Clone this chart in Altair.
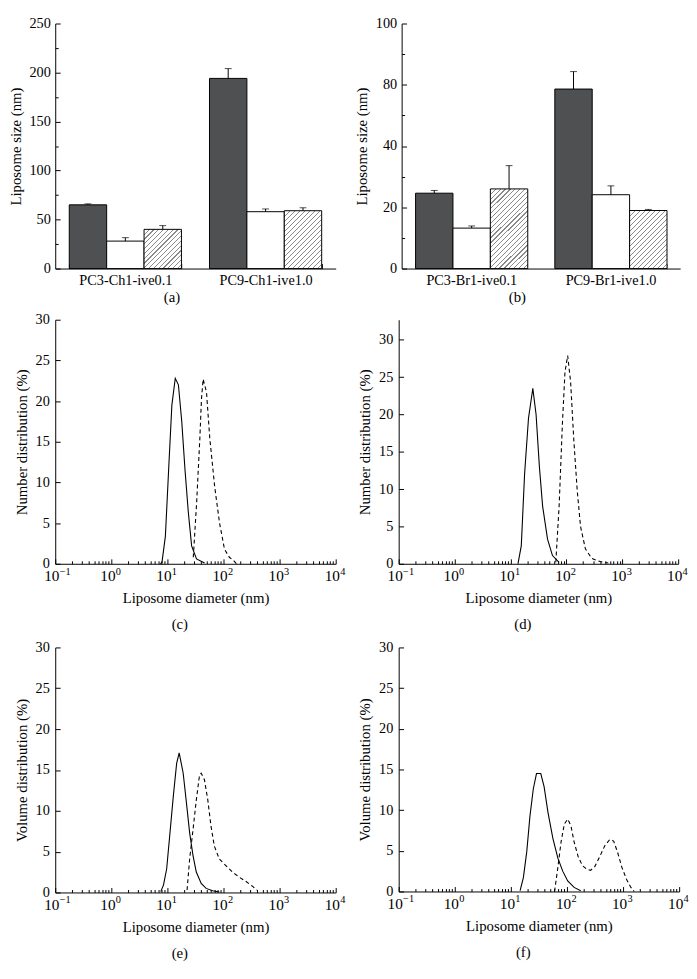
import altair as alt
import pandas as pd

FONT = "Liberation Serif"
DARK = "#4f5052"
HATCH = "#8a8a8a"

# ---------------- bar panels (a), (b) ----------------
groups_a = ["PC3-Ch1-ive0.1", "PC9-Ch1-ive1.0"]
groups_b = ["PC3-Br1-ive0.1", "PC9-Br1-ive1.0"]
series = ["dark", "white", "hatched"]

a_dark = [65.0, 194.0]
a_dark_err = [1.0, 10.0]
a_white = [28.0, 58.0]
a_white_err = [3.5, 2.8]
a_hatch = [40.0, 59.0]
a_hatch_err = [3.8, 3.0]

b_dark = [24.6, 58.6]
b_dark_err = [0.9, 5.7]
b_white = [13.2, 24.1]
b_white_err = [0.7, 2.9]
b_hatch = [26.0, 18.95]
b_hatch_err = [7.6, 0.35]

a_ticks = [0, 25, 50, 75, 100, 125, 150, 175, 200, 225, 250]
b_ticks = [0, 10, 20, 30, 40, 50, 60, 70, 80]

# ---------------- size distributions (c)-(f) ----------------
c_solid_d = [7.5, 8.0, 9.2, 10.5, 12.0, 13.8, 15.7, 18.0, 20.6, 23.6, 27.0, 33.0, 46.0]
c_solid_v = [0.0, 0.2, 3.4, 11.5, 19.5, 22.8, 22.0, 17.5, 11.5, 6.3, 2.2, 0.6, 0.1]
c_dash_d = [28.9, 33.1, 37.9, 40.5, 43.3, 49.7, 56.8, 69.5, 85.0, 104.0, 127.0, 156.0, 170.0]
c_dash_v = [0.8, 7.4, 15.5, 20.3, 22.7, 21.1, 15.5, 9.5, 5.0, 1.8, 0.8, 0.3, 0.0]

d_solid_d = [13.6, 15.6, 17.9, 21.0, 25.1, 28.7, 32.9, 37.6, 46.0, 56.4, 74.0]
d_solid_v = [0.0, 2.4, 12.1, 19.5, 23.5, 20.0, 13.0, 7.7, 3.3, 1.1, 0.2]
d_dash_d = [64.7, 74.1, 84.8, 94.4, 105.4, 119.0, 136.0, 156.0, 179.0, 219.0, 286.0, 403.0, 563.0]
d_dash_v = [0.2, 7.7, 18.7, 25.7, 27.9, 24.4, 16.5, 9.9, 5.0, 2.0, 0.7, 0.3, 0.1]

e_solid_d = [7.6, 8.5, 9.7, 11.1, 12.7, 14.6, 16.2, 19.1, 21.8, 24.9, 28.6, 32.7, 40.0, 48.9, 64.0, 84.0]
e_solid_v = [0.1, 0.9, 2.9, 7.3, 11.7, 15.8, 17.1, 14.6, 11.0, 7.3, 4.5, 2.5, 1.1, 0.5, 0.2, 0.05]
e_dash_d = [22.4, 24.9, 28.6, 32.7, 37.4, 40.0, 45.7, 52.5, 59.9, 68.5, 84.0, 110.0, 144.0, 188.0, 246.0, 323.0, 395.0]
e_dash_v = [0.3, 4.1, 7.7, 11.3, 14.4, 14.6, 13.8, 11.3, 8.1, 5.7, 4.1, 3.3, 2.5, 1.9, 1.4, 0.8, 0.3]

f_solid_d = [14.6, 16.7, 19.2, 21.9, 25.1, 28.6, 34.1, 39.1, 45.9, 56.2, 68.8, 84.0, 103.0, 134.0, 176.0]
f_solid_v = [0.1, 1.7, 4.9, 9.3, 12.6, 14.5, 14.5, 12.9, 9.7, 6.5, 4.1, 2.5, 1.3, 0.5, 0.1]
f_dash_d = [60.0, 68.7, 78.5, 89.8, 102.8, 117.5, 134.0, 158.0, 188.0, 225.0, 262.0, 310.0, 385.0,
            470.0, 580.0, 680.0, 800.0, 950.0, 1150.0, 1380.0, 1580.0]
f_dash_v = [0.0, 2.9, 6.1, 8.3, 8.9, 8.1, 6.1, 4.3, 3.2, 2.75, 2.6, 3.0, 4.3, 5.6, 6.4, 6.2, 4.8, 3.0, 1.5, 0.5, 0.0]

log_ticks = []
for k in range(-1, 4):
    for m in range(1, 10):
        log_ticks.append(m * 10.0 ** k)
log_ticks.append(10000.0)
log_major = [0.1, 1.0, 10.0, 100.0, 1000.0, 10000.0]
log_exponents = ["\u22121", "0", "1", "2", "3", "4"]
curve_yticks = [0, 2.5, 5, 7.5, 10, 12.5, 15, 17.5, 20, 22.5, 25, 27.5, 30]

LABEL_SIZE = 14.5
TITLE_SIZE = 15


def hatch_gradient(w, h, d=5.0, f=0.25):
    c = (w + h) / (w * w + h * h)
    n = max(1, int(round((w + h) / d)))
    stops = []
    for i in range(n):
        o0 = i / n
        o1 = (i + f) / n
        o2 = (i + 1) / n
        stops += [
            {"offset": o0, "color": HATCH},
            {"offset": o1, "color": HATCH},
            {"offset": o1, "color": "white"},
            {"offset": o2, "color": "white"},
        ]
    return {"gradient": "linear", "x1": 0, "y1": 0, "x2": w * c, "y2": h * c, "stops": stops}


def bar_panel(groups, vals, errs, ymax, yticks, major, label_expr, letter, W, H, toff):
    rows = []
    for s, v, e in zip(series, vals, errs):
        for g, vv, ee in zip(groups, v, e):
            rows.append({"group": g, "series": s, "value": vv, "upper": vv + ee})
    df = pd.DataFrame(rows)
    x = alt.X("group:N", scale=alt.Scale(domain=groups, paddingInner=0.2, paddingOuter=0.1),
              axis=alt.Axis(title=None, labelAngle=0, tickBand="extent", tickSize=alt.ExprRef("-5"),
                            labelPadding=10))
    xo = alt.XOffset("series:N", scale=alt.Scale(domain=series, paddingInner=0, paddingOuter=0))
    ysc = alt.Scale(domain=[0, ymax], nice=False)
    yax = alt.Axis(title="Liposome size (nm)", values=yticks, labelExpr=label_expr,
                   tickSize={"condition": {"test": f"datum.value % {major} === 0", "value": -5}, "value": -3},
                   labelPadding=10, titlePadding=6, labelOverlap=False)
    base = alt.Chart(df)
    layers = [
        base.transform_filter(alt.datum.series == "dark").mark_bar(fill=DARK, stroke="black", strokeWidth=1)
        .encode(x=x, xOffset=xo, y=alt.Y("value:Q", scale=ysc, axis=yax)),
        base.transform_filter(alt.datum.series == "white").mark_bar(fill="white", stroke="black", strokeWidth=1)
        .encode(x=x, xOffset=xo, y=alt.Y("value:Q", scale=ysc, axis=yax)),
    ]
    bw = 0.4 * W / 3.0
    for g, v in zip(groups, vals[2]):
        h = v / ymax * H
        layers.append(
            base.transform_filter((alt.datum.series == "hatched") & (alt.datum.group == g))
            .mark_bar(fill=hatch_gradient(bw, h), stroke="black", strokeWidth=1)
            .encode(x=x, xOffset=xo, y=alt.Y("value:Q", scale=ysc, axis=yax))
        )
    layers.append(
        base.mark_rule(color="black", strokeWidth=1)
        .encode(x=x, xOffset=xo, y=alt.Y("value:Q", scale=ysc, axis=yax), y2="upper:Q")
    )
    layers.append(
        base.mark_tick(orient="horizontal", size=7, thickness=1, color="black")
        .encode(x=x, xOffset=xo, y=alt.Y("upper:Q", scale=ysc, axis=yax))
    )
    return alt.layer(*layers).properties(
        width=W, height=H,
        title=alt.TitleParams(letter, orient="bottom", anchor="middle", frame="bounds", offset=toff),
    )


MAJOR_LOG = "abs(log(datum.value)/LN10 - round(log(datum.value)/LN10)) < 1e-6"


def curve_panel(sd, sv, dd, dv, ytitle, ymax, letter, W, H, toff):
    xsc = alt.Scale(type="log", domain=[0.1, 10000], nice=False)
    xax = alt.Axis(title="Liposome diameter (nm)", values=log_ticks,
                   labelExpr=f"{MAJOR_LOG} ? '10' : ''",
                   tickSize={"condition": {"test": MAJOR_LOG, "value": -5}, "value": -3},
                   labelPadding=10, titlePadding=5, labelOverlap=False, labelFlush=False,
                   labelOffset=-4, labelFontSize=LABEL_SIZE + 1)
    ysc = alt.Scale(domain=[0, ymax], nice=False)
    yax = alt.Axis(title=ytitle, values=curve_yticks,
                   labelExpr="datum.value % 5 === 0 ? format(datum.value, 'd') : ''",
                   tickSize={"condition": {"test": "datum.value % 5 === 0", "value": -5}, "value": -3},
                   labelPadding=11, titlePadding=6, labelOverlap=False)
    s = alt.Chart(pd.DataFrame({"d": sd, "v": sv})).mark_line(color="black", strokeWidth=1.1).encode(
        x=alt.X("d:Q", scale=xsc, axis=xax), y=alt.Y("v:Q", scale=ysc, axis=yax))
    dsh = alt.Chart(pd.DataFrame({"d": dd, "v": dv})).mark_line(color="black", strokeWidth=1.1,
                                                                 strokeDash=[4, 3]).encode(
        x=alt.X("d:Q", scale=xsc, axis=xax), y=alt.Y("v:Q", scale=ysc, axis=yax))
    exps = alt.Chart(pd.DataFrame({"t": log_major, "e": log_exponents})).mark_text(
        align="left", baseline="top", dx=4.5, dy=3, fontSize=10.5, font=FONT, color="black"
    ).encode(x=alt.X("t:Q", scale=xsc, axis=xax), y=alt.datum(0), text="e:N")
    return alt.layer(s, dsh, exps).properties(
        width=W, height=H,
        title=alt.TitleParams(letter, orient="bottom", anchor="middle", frame="bounds", offset=toff),
    )


pa = bar_panel(groups_a, [a_dark, a_white, a_hatch], [a_dark_err, a_white_err, a_hatch_err], 250, a_ticks, 50,
               "datum.value % 50 === 0 ? format(datum.value, 'd') : ''", "(a)", 285, 249, 3)
pb = bar_panel(groups_b, [b_dark, b_white, b_hatch], [b_dark_err, b_white_err, b_hatch_err], 80, b_ticks, 20,
               "datum.value === 60 ? '80' : datum.value === 80 ? '100' : datum.value % 20 === 0 ? format(datum.value, 'd') : ''",
               "(b)", 283, 249, 3)
pc = curve_panel(c_solid_d, c_solid_v, c_dash_d, c_dash_v, "Number distribution (%)", 30, "(c)", 285, 248, 12)
pd_ = curve_panel(d_solid_d, d_solid_v, d_dash_d, d_dash_v, "Number distribution (%)", 32.7, "(d)", 284, 248, 12)
pe = curve_panel(e_solid_d, e_solid_v, e_dash_d, e_dash_v, "Volume distribution (%)", 30, "(e)", 285, 249, 12)
pf = curve_panel(f_solid_d, f_solid_v, f_dash_d, f_dash_v, "Volume distribution (%)", 30, "(f)", 285, 248, 12)

chart = alt.vconcat(
    alt.hconcat(pa, pb, spacing=19),
    alt.hconcat(pc, pd_, spacing=12),
    alt.hconcat(pe, pf, spacing=12),
    spacing=7,
).properties(
    padding={"left": 0, "top": 0, "right": 0, "bottom": 0}
).configure_axis(
    labelFont=FONT, titleFont=FONT, labelFontSize=LABEL_SIZE, titleFontSize=TITLE_SIZE, titleFontWeight="normal",
    labelColor="black", titleColor="black", domainColor="black", tickColor="black",
    domainWidth=1, tickWidth=1, grid=False,
).configure_title(
    font=FONT, fontSize=TITLE_SIZE, fontWeight="normal", color="black",
).configure_view(stroke=None)

chart.save("out.html", embed_options={"renderer": "svg", "actions": False})
